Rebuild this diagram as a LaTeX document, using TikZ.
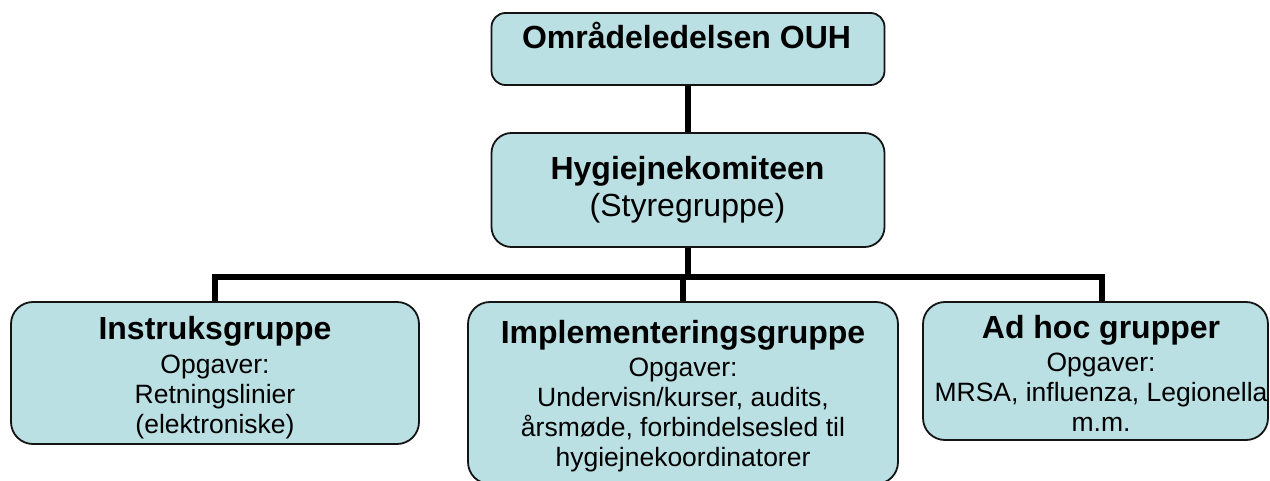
\documentclass[tikz,border=0pt]{standalone}
\usepackage{fontspec}
\setmainfont{Liberation Sans}
\usetikzlibrary{calc}
\definecolor{boxfill}{RGB}{186,224,227}
\definecolor{boxline}{RGB}{20,20,20}
\newcommand{\ttl}[1]{{\fontsize{32}{37}\selectfont\bfseries #1}}
\tikzset{
  orgbox/.style={draw=boxline, line width=1.8pt, fill=boxfill, rounded corners=#1, inner sep=0pt},
  orgbox/.default=20pt,
  boxtext/.style={anchor=base, inner sep=0pt, font=\fontsize{26.5}{30}\selectfont},
  link/.style={line width=6.3pt, draw=black, line join=miter},
}
\begin{document}
\begin{tikzpicture}[x=1pt,y=-1pt]
\useasboundingbox (0,0) rectangle (1270,481);

% boxes
\node[orgbox=14pt, minimum width=393pt, minimum height=72pt] (top) at (688,49) {};
\node[orgbox=20pt, minimum width=393pt, minimum height=114pt] (mid) at (688,190) {};
\node[orgbox=22pt, minimum width=408pt, minimum height=142pt] (instr) at (215,373) {};
\node[orgbox=22pt, minimum width=430pt, minimum height=182pt] (impl) at (683,393) {};
\node[orgbox=22pt, minimum width=345pt, minimum height=138pt] (adhoc) at (1095.5,371) {};

% texts
\node[boxtext] (topT) at (686.5,49) {\ttl{Områdeledelsen OUH}};
\node[boxtext] (midT) at (687.5,180) {\fontsize{32}{36.5}\selectfont
  \begin{tabular}[t]{@{}c@{}}\bfseries Hygiejnekomiteen\\ (Styregruppe)\end{tabular}};
\node[boxtext] (instrT) at (215,340) {\begin{tabular}[t]{@{}c@{}}\ttl{Instruksgruppe}\\[3pt]
  Opgaver:\\ Retningslinier\\ (elektroniske)\end{tabular}};
\node[boxtext] (implT) at (683,343) {\begin{tabular}[t]{@{}c@{}}\ttl{Implementeringsgruppe}\\[3pt]
  Opgaver:\\ Undervisn/kurser, audits,\\ årsmøde, forbindelsesled til\\ hygiejnekoordinatorer\end{tabular}};
\node[boxtext] (adhocT) at (1101,338) {\begin{tabular}[t]{@{}c@{}}\ttl{Ad hoc grupper}\\[3pt]
  Opgaver:\\ MRSA, influenza, Legionella\\ m.m.\end{tabular}};

% connectors
\coordinate (bus) at (687,277);
\coordinate (adhocIn) at ($(adhoc.north)+(6.5,0)$);
\draw[link] (top.south) -- (mid.north);
\draw[link] (mid.south) -- (mid.south |- bus);
\draw[link] (instr.north) -- (instr.north |- bus) -- (adhocIn |- bus) -- (adhocIn);
\draw[link] (impl.north) -- (impl.north |- bus);
\end{tikzpicture}
\end{document}
